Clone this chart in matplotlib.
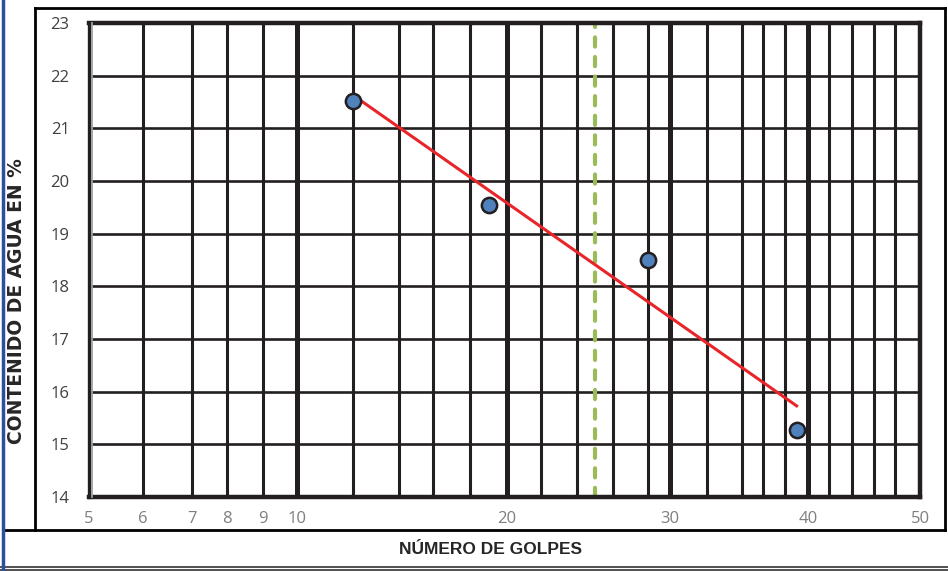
import numpy as np
from matplotlib import pyplot as plt
from matplotlib.lines import Line2D
import matplotlib.transforms as mtransforms

# ensayo de limite liquido (Casagrande)
golpes = [12, 19, 28, 39]
humedad = [21.51, 19.55, 18.50, 15.28]

# linea de tendencia
tend_golpes = [12, 39]
tend_humedad = [21.63, 15.73]

n_limite = 25

y_ticks = [14, 15, 16, 17, 18, 19, 20, 21, 22, 23]
x_ticks = [5, 6, 7, 8, 9, 10, 20, 30, 40, 50]
x_ticklabels = ['5', '6', '7', '8', '9', '10', '20', '30', '40', '50']

# papel semilog del formato: lineas verticales del reticulado y su posicion relativa
reticula_n = [5, 6, 7, 8, 9, 10, 12, 14, 16, 18, 20, 22, 24, 26, 28,
              30, 32, 34, 36, 38, 40, 42, 44, 46, 48, 50]
reticula_pos = [0, 54, 103, 138, 174, 208, 264, 310, 344, 381, 418, 452, 488, 524, 559,
                581, 618, 653, 674, 696, 719, 740, 763, 785, 806, 831]
lineas_gruesas = [10, 20, 30, 40]

W, H = 948, 571


def forward(x):
    x = np.clip(np.asarray(x, dtype=float), 1e-9, None)
    return np.interp(np.log10(x), np.log10(reticula_n), reticula_pos)


def inverse(p):
    return 10 ** np.interp(p, reticula_pos, np.log10(reticula_n))


def fx(x):
    return x / W


def fy(y):
    return 1 - y / H


def main():
    fig = plt.figure(figsize=(W / 100, H / 100), dpi=100)
    ax = fig.add_axes([fx(89), fy(497), fx(920) - fx(89), fy(23) - fy(497)])

    ax.set_xscale('function', functions=(forward, inverse))
    ax.set_xlim(5, 50)
    ax.set_ylim(14, 23)

    ink = '#231f20'
    for n in reticula_n[1:-1]:
        lw = 3.6 if n in lineas_gruesas else 2.2
        ax.axvline(n, color=ink, lw=lw, zorder=1)
    for y in y_ticks[1:-1]:
        ax.axhline(y, color=ink, lw=1.9, zorder=1)

    ax.axvline(n_limite, color='#9bbb59', lw=3.0, linestyle=(0, (2.2, 2.5)),
               dash_capstyle='round', zorder=2)

    ax.plot(tend_golpes, tend_humedad, color='#e8262a', lw=2.2, zorder=3)
    ax.plot(golpes, humedad, 'o', ms=11, mfc='#4f81bd', mec=ink, mew=1.8, zorder=4)

    for side in ['top', 'bottom', 'right']:
        ax.spines[side].set_linewidth(3.2)
        ax.spines[side].set_color(ink)
    ax.spines['left'].set_linewidth(2.4)
    ax.spines['left'].set_color(ink)
    # sombra gris del eje izquierdo
    sombra = mtransforms.offset_copy(ax.transAxes, fig=fig, x=2.2, units='points')
    ax.add_line(Line2D([0, 0], [0, 1], transform=sombra, color='#a0a0a0', lw=1.3,
                       clip_on=False, zorder=5))

    ax.set_xticks(x_ticks)
    ax.set_xticklabels(x_ticklabels)
    ax.xaxis.set_minor_locator(plt.NullLocator())
    ax.set_yticks(y_ticks)
    ax.tick_params(axis='x', length=0, pad=10, labelsize=12, labelcolor='#7f7f7f')
    ax.tick_params(axis='y', length=0, pad=14, labelsize=12, labelcolor='#404040')
    for lab in ax.get_xticklabels() + ax.get_yticklabels():
        lab.set_family('Open Sans')

    fig.text(fx(17), fy(301), 'CONTENIDO DE AGUA EN %', rotation=90, ha='center', va='center',
             fontsize=13.5, fontweight='bold', family='DejaVu Sans', color='#262626')
    fig.text(fx(491), fy(550), 'NÚMERO DE GOLPES', ha='center', va='center',
             fontsize=12.5, fontweight='bold', family='Liberation Sans', color='#262626')

    # marco del formato
    marco = [
        ([fx(35), fx(945)], [fy(8), fy(8)], 'black', 2.0),
        ([fx(35), fx(35)], [fy(8), fy(530)], 'black', 2.0),
        ([fx(945), fx(945)], [fy(8), fy(530)], 'black', 2.0),
        ([fx(3), fx(945)], [fy(530), fy(530)], 'black', 2.0),
        ([fx(0), fx(948)], [fy(566.5), fy(566.5)], '#333333', 1.2),
        ([fx(0), fx(948)], [fy(569.5), fy(569.5)], '#333333', 1.2),
        ([fx(3), fx(3)], [fy(0), fy(571)], '#2e4fa0', 2.5),
    ]
    for xs, ys, c, lw in marco:
        fig.add_artist(Line2D(xs, ys, transform=fig.transFigure, color=c, lw=lw))

    plt.savefig('out.png', dpi=100)
    plt.close()


if __name__ == '__main__':
    main()
